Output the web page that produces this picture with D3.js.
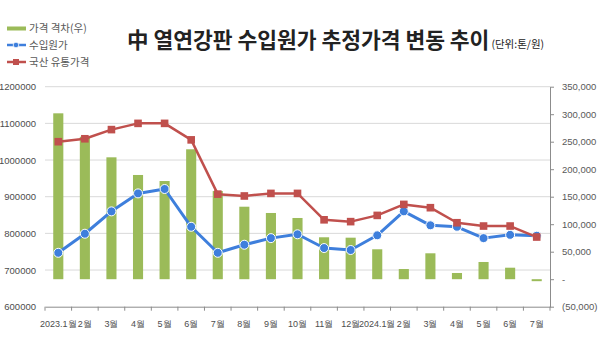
<!DOCTYPE html>
<html><head><meta charset="utf-8">
<script src="https://cdn.jsdelivr.net/npm/d3@7"></script>
<style>
body{margin:0;background:#fff;}
svg{display:block;font-family:"Noto Sans CJK KR","Noto Sans",sans-serif;}
</style></head>
<body>
<svg id="c" width="600" height="338"></svg>
<script>
const months = ["2023.1월","2월","3월","4월","5월","6월","7월","8월","9월","10월","11월","12월","2024.1월","2월","3월","4월","5월","6월","7월"];
const importCost = [747000,799000,860000,909000,921000,818000,747000,769000,787000,797500,760000,754600,794700,860000,822000,818000,787000,796000,793600];
const domesticPrice = [1050000,1058000,1083000,1100000,1100000,1055000,907000,902000,909000,909000,837000,832000,849000,879000,870000,829000,820000,820000,790000];
const priceGap = [301600,259000,221600,189500,178500,236200,160300,131800,120400,111300,76200,75500,54400,18500,47100,11300,31300,20900,-3600];
const leftTicks = [600000,700000,800000,900000,1000000,1100000,1200000];
const rightTicks = [-50000,0,50000,100000,150000,200000,250000,300000,350000];
const legendLabels = ["가격 격차(우)","수입원가","국산 유통가격"];
const titleText = "中 열연강판 수입원가 추정가격 변동 추이";
const unitText = "(단위:톤/원)";

const svg = d3.select("#c");
const L = 45, R = 550, T = 86.7, B = 306.7;
const x = d3.scaleBand().domain(d3.range(months.length)).range([L, R]).paddingInner(0.62).paddingOuter(0.31);
const xc = i => x(i) + x.bandwidth()/2;
const yL = d3.scaleLinear().domain([600000,1200000]).range([B, T]);
const yR = d3.scaleLinear().domain([-50000,350000]).range([B, T]);

const green = "#9bbb59", blue = "#3e7fdc", red = "#c0504d", txt = "#595959";

// gridlines
svg.append("g").selectAll("line").data(leftTicks.slice(1)).join("line")
  .attr("x1", L).attr("x2", R).attr("y1", d => yL(d)).attr("y2", d => yL(d))
  .attr("stroke", "#d9d9d9").attr("stroke-width", 1);

// left axis labels
const gl = svg.append("g").attr("transform", `translate(${L},0)`)
  .call(d3.axisLeft(yL).tickValues(leftTicks).tickFormat(d3.format("d")).tickSize(0).tickPadding(9));
gl.select(".domain").remove();
gl.selectAll("text").attr("font-size", 9.5).attr("fill", "#4d4d4d").attr("font-family", "inherit");

// right axis
const fmtR = d => d === 0 ? "-" : d < 0 ? "(" + d3.format(",")(-d) + ")" : d3.format(",")(d);
const gr = svg.append("g").attr("transform", `translate(${R},0)`)
  .call(d3.axisRight(yR).tickValues(rightTicks).tickFormat(fmtR).tickSizeInner(4).tickSizeOuter(0).tickPadding(8));
gr.select(".domain").attr("stroke", "#8c8c8c");
gr.selectAll(".tick line").attr("stroke", "#8c8c8c");
gr.selectAll("text").attr("font-size", 9.5).attr("fill", txt).attr("font-family", "inherit");

// bars
svg.append("g").selectAll("rect").data(priceGap).join("rect")
  .attr("x", (d,i) => x(i)).attr("width", x.bandwidth())
  .attr("y", d => yR(Math.max(0,d))).attr("height", d => Math.abs(yR(d) - yR(0)))
  .attr("fill", green);

// bottom axis
const xb = d3.scaleBand().domain(months.map((m,i)=>i)).range([L, R]);
const gb = svg.append("g").attr("transform", `translate(0,${B})`)
  .call(d3.axisBottom(xb).tickFormat(i => months[i]).tickSize(0).tickPadding(14));
gb.select(".domain").attr("stroke", "#8c8c8c");
gb.selectAll("text").attr("font-size", 9).attr("fill", "#4d4d4d").attr("font-family", "inherit");
// tick marks at band boundaries
svg.append("g").selectAll("line").data(d3.range(months.length+1)).join("line")
  .attr("x1", i => L + i*xb.step()).attr("x2", i => L + i*xb.step())
  .attr("y1", B).attr("y2", B+4).attr("stroke", "#8c8c8c");

// blue line
const lineB = d3.line().x((d,i) => xc(i)).y(d => yL(d));
svg.append("path").datum(importCost).attr("d", lineB).attr("fill","none")
  .attr("stroke", blue).attr("stroke-width", 3).attr("stroke-linejoin","round");
svg.append("g").selectAll("circle").data(importCost).join("circle")
  .attr("cx", (d,i) => xc(i)).attr("cy", d => yL(d)).attr("r", 4.5)
  .attr("fill", blue).attr("stroke", "#fff").attr("stroke-width", 1);

// red line
svg.append("path").datum(domesticPrice).attr("d", lineB).attr("fill","none")
  .attr("stroke", red).attr("stroke-width", 2.5).attr("stroke-linejoin","round");
svg.append("g").selectAll("rect").data(domesticPrice).join("rect")
  .attr("x", (d,i) => xc(i) - 3.8).attr("y", d => yL(d) - 3.8)
  .attr("width", 7.6).attr("height", 7.6).attr("fill", red);

// title
const tt = svg.append("text").attr("x", 127).attr("y", 48).attr("fill", "#222");
tt.append("tspan").attr("font-size", 21.5).attr("font-weight", "bold").text(titleText);
tt.append("tspan").attr("font-size", 10.5).attr("dx", 2).text(unitText);

// legend
const lg = svg.append("g");
const ly = [28.5, 45, 62];
lg.append("rect").attr("x", 7).attr("y", ly[0]-2).attr("width", 19).attr("height", 4).attr("fill", green);
lg.append("line").attr("x1", 7).attr("x2", 26).attr("y1", ly[1]).attr("y2", ly[1]).attr("stroke", blue).attr("stroke-width", 2.5);
lg.append("circle").attr("cx", 16).attr("cy", ly[1]).attr("r", 2.8).attr("fill", blue).attr("stroke","#fff").attr("stroke-width",0.8);
lg.append("line").attr("x1", 7).attr("x2", 26).attr("y1", ly[2]).attr("y2", ly[2]).attr("stroke", red).attr("stroke-width", 2.5);
lg.append("rect").attr("x", 13).attr("y", ly[2]-3).attr("width", 6).attr("height", 6).attr("fill", red);
lg.selectAll("text").data(legendLabels).join("text")
  .attr("x", 29).attr("y", (d,i) => ly[i] + 3.5).attr("font-size", 10.5).attr("fill", txt).text(d => d);
</script>
</body></html>
